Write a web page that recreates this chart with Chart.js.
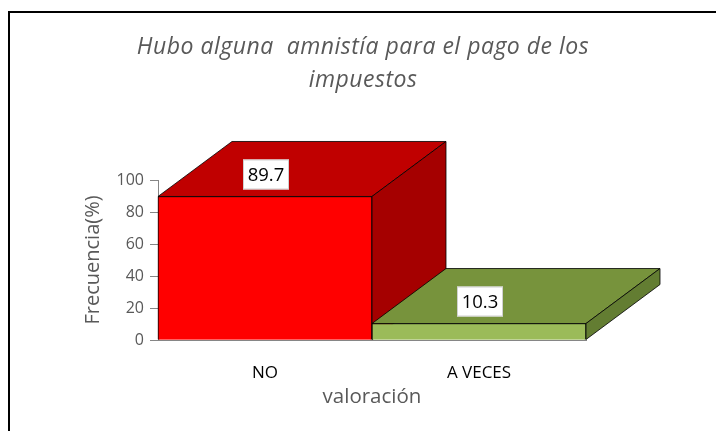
<!DOCTYPE html>
<html>
<head>
<meta charset="utf-8">
<script src="https://cdn.jsdelivr.net/npm/chart.js@4.4.1/dist/chart.umd.min.js"></script>
<style>
  html, body { margin: 0; padding: 0; background: #fff; }
  #wrap { position: relative; width: 716px; height: 431px; overflow: hidden; }
  #frame { position: absolute; left: 8px; top: 11px; width: 800px; height: 500px;
           border-top: 2px solid #000; border-left: 2px solid #000; }
  canvas { position: absolute; left: 0; top: 0; }
</style>
</head>
<body>
<div id="wrap">
  <div id="frame"></div>
  <canvas id="chart" width="716" height="431"></canvas>
</div>
<script>
// Chart data
const categories = ['NO', 'A VECES'];
const frequencies = [89.7, 10.3];
const yTicks = [0, 20, 40, 60, 80, 100];
const titleLines = ['Hubo alguna  amnistía para el pago de los', 'impuestos'];

// Face colours (front, top, side)
const frontColors = ['#FF0000', '#9BBB59'];
const topColors = ['#C00000', '#77933C'];
const sideColors = ['#A50000', '#637D32'];

// 3D depth of the bars, in pixels
const depthX = 74;
const depthY = -55;

function face(ctx, pts, color) {
    ctx.beginPath();
    ctx.moveTo(pts[0][0], pts[0][1]);
    for (let k = 1; k < pts.length; k++) ctx.lineTo(pts[k][0], pts[k][1]);
    ctx.closePath();
    ctx.fillStyle = color;
    ctx.fill();
    ctx.stroke();
}

// Draws the top and side faces, then the white value boxes
const bar3d = {
    id: 'bar3d',
    afterDatasetsDraw(chart) {
        const ctx = chart.ctx;
        const meta = chart.getDatasetMeta(0);
        meta.data.forEach((bar, i) => {
            const l = bar.x - bar.width / 2;
            const r = bar.x + bar.width / 2;
            const t = bar.y;
            const b = bar.base;
            bar.draw(ctx); // front again so it sits over the previous bar's side
            ctx.save();
            ctx.lineWidth = 1;
            ctx.strokeStyle = 'rgba(0,0,0,0.8)';
            ctx.lineJoin = 'round';
            face(ctx, [[l, t], [l + depthX, t + depthY], [r + depthX, t + depthY], [r, t]], topColors[i]);
            face(ctx, [[r, t], [r + depthX, t + depthY], [r + depthX, b + depthY], [r, b]], sideColors[i]);
            ctx.restore();
        });
        meta.data.forEach((bar, i) => {
            const cx = bar.x + 1;
            const cy = bar.y - 22;
            ctx.save();
            ctx.fillStyle = '#fff';
            ctx.strokeStyle = '#d0d0d0';
            ctx.lineWidth = 1;
            ctx.fillRect(cx - 23, cy - 15, 46, 30);
            ctx.strokeRect(cx - 22.5, cy - 14.5, 45, 29);
            ctx.fillStyle = '#000';
            ctx.font = '18.5px "Open Sans"';
            ctx.textAlign = 'center';
            ctx.textBaseline = 'middle';
            ctx.fillText(frequencies[i].toFixed(1), cx, cy + 1);
            ctx.restore();
        });
    },
    afterDraw(chart) {
        const ctx = chart.ctx;
        ctx.save();
        ctx.fillStyle = '#595959';
        ctx.font = 'italic 23px "Open Sans"';
        ctx.letterSpacing = '0.5px';
        ctx.textAlign = 'center';
        ctx.textBaseline = 'middle';
        titleLines.forEach((line, k) => ctx.fillText(line, 363, 47 + k * 33));
        ctx.restore();
    }
};

const ctx = document.getElementById('chart').getContext('2d');
new Chart(ctx, {
    type: 'bar',
    data: {
        labels: categories,
        datasets: [{
            data: frequencies,
            backgroundColor: frontColors,
            borderColor: 'rgba(0,0,0,0.8)',
            borderWidth: 1,
            barPercentage: 1,
            categoryPercentage: 1,
            clip: false
        }]
    },
    options: {
        responsive: false,
        animation: false,
        layout: { padding: { top: 180, left: 10, right: 130, bottom: 0 } },
        plugins: {
            legend: { display: false },
            tooltip: { enabled: false },
            title: { display: false }
        },
        scales: {
            x: {
                afterFit(scale) { scale.height = 91; },
                grid: { display: false },
                border: { display: true, color: '#868686' },
                ticks: { color: '#000', font: { family: 'Open Sans', size: 17 }, padding: 15 },
                title: {
                    display: true, text: 'valoración', color: '#595959',
                    font: { family: 'Open Sans', size: 20.5 }, padding: { bottom: 22 }
                }
            },
            y: {
                min: 0,
                max: 100,
                afterFit(scale) { scale.width = 148; },
                afterBuildTicks(scale) { scale.ticks = yTicks.map(v => ({ value: v })); },
                grid: { drawOnChartArea: false, drawTicks: true, tickLength: 8, color: '#868686' },
                border: { color: '#868686' },
                ticks: { color: '#595959', font: { family: 'Open Sans', size: 16 }, padding: 6 },
                title: {
                    display: true, text: 'Frecuencia(%)', color: '#595959',
                    font: { family: 'Open Sans', size: 20 }, padding: { top: 71 }
                }
            }
        }
    },
    plugins: [bar3d]
});
</script>
</body>
</html>
